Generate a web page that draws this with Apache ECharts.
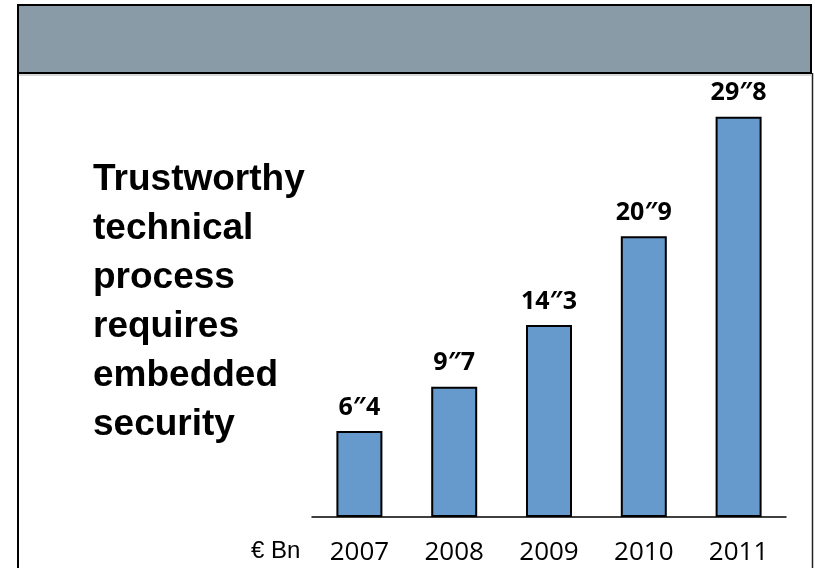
<!DOCTYPE html>
<html>
<head>
<meta charset="utf-8">
<script src="https://cdn.jsdelivr.net/npm/echarts@6/dist/echarts.min.js"></script>
<style>html,body{margin:0;padding:0;background:#fff;}#c{width:815px;height:568px;}</style>
</head>
<body>
<div id="c"></div>
<script>
const categories = ['2007', '2008', '2009', '2010', '2011'];
const values = [6.4, 9.7, 14.3, 20.9, 29.8];
const unitLabel = '€ Bn';
const sideText = ['Trustworthy', 'technical', 'process', 'requires', 'embedded', 'security'];

const chart = echarts.init(document.getElementById('c'), null, {renderer: 'canvas'});
chart.setOption({
  animation: false,
  backgroundColor: '#ffffff',
  grid: {left: 312, right: 29, top: 114, bottom: 51},
  xAxis: {
    type: 'category',
    data: categories,
    axisLine: {lineStyle: {color: '#000', width: 1.5}},
    axisTick: {show: false},
    axisLabel: {fontFamily: 'Open Sans', fontSize: 26, color: '#000', margin: 23}
  },
  yAxis: {type: 'value', min: 0, max: 30, show: false, splitLine: {show: false}},
  series: [{
    type: 'bar',
    data: values,
    barWidth: 46,
    itemStyle: {color: '#6699CC', borderColor: '#000', borderWidth: 2},
    label: {
      show: true,
      position: 'top',
      distance: 11,
      fontFamily: 'Open Sans',
      fontWeight: 'bold',
      fontSize: 25,
      color: '#000',
      formatter: p => String(p.value).replace('.', '″')
    }
  }],
  graphic: [
    {type: 'rect', shape: {x: 18, y: 5, width: 793, height: 68}, style: {fill: '#8A9BA8', stroke: '#000', lineWidth: 2}},
    {type: 'line', shape: {x1: 19, y1: 75, x2: 811, y2: 75}, style: {stroke: '#b0b0b0', lineWidth: 1}},
    {type: 'line', shape: {x1: 18, y1: 73, x2: 18, y2: 568}, style: {stroke: '#000', lineWidth: 2}},
    {type: 'line', shape: {x1: 812.5, y1: 73, x2: 812.5, y2: 568}, style: {stroke: '#222', lineWidth: 1.5}},
    {type: 'text', left: 93, top: 155, style: {text: sideText.join('\n'), fontFamily: 'Liberation Sans', fontWeight: 'bold', fontSize: 37, lineHeight: 49, fill: '#000'}},
    {type: 'text', left: 251, top: 539, style: {text: unitLabel, fontFamily: 'Liberation Sans', fontSize: 24, fill: '#000'}}
  ]
});
</script>
</body>
</html>
